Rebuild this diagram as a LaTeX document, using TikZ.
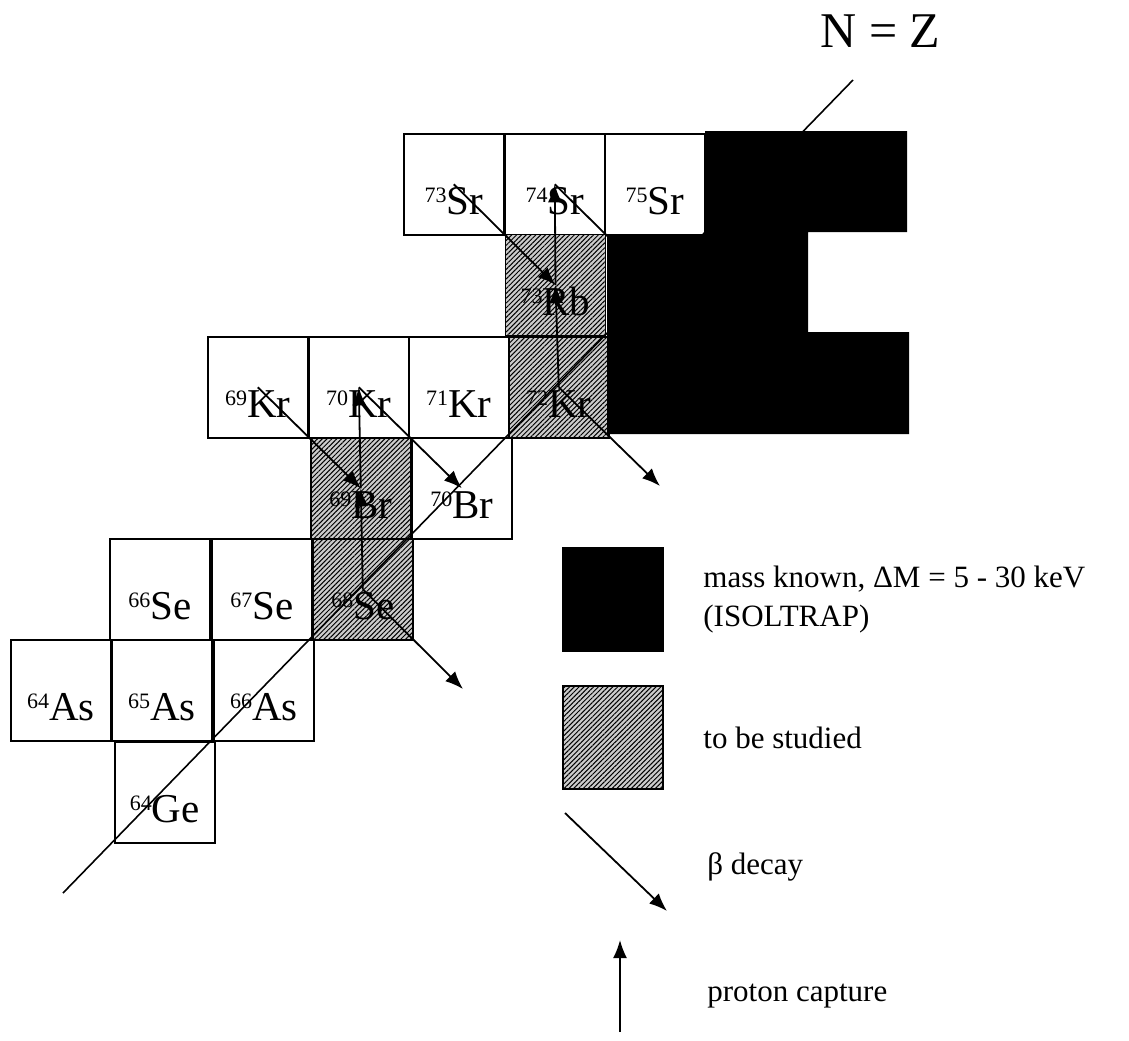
\documentclass[tikz,border=0pt]{standalone}
\usepackage{fontspec}
\setmainfont{Liberation Serif}
\usetikzlibrary{arrows.meta,patterns.meta}
\newcommand{\nuc}[2]{\raisebox{6.2pt}{\fontsize{11}{11}\selectfont #1}#2}

\begin{document}
\begin{tikzpicture}[x=0.5pt,y=-0.5pt,
  cell/.style={draw,line width=0.8pt,anchor=north west,minimum width=50pt,minimum height=50.5pt,
    inner sep=0pt,text height=30.5pt,text depth=0pt,font=\fontsize{20.5}{22}\selectfont},
  studied/.style={preaction={fill=gray!40},pattern={Lines[angle=45,distance=1.7pt,line width=0.5pt]}},
  decay/.style={line width=0.9pt,-{Latex[length=9pt,width=7pt]}},
  legend/.style={anchor=base west,inner sep=0pt,font=\fontsize{15.5}{19}\selectfont}]
  \useasboundingbox (0,0) rectangle (1129,1040);
  % nuclides
  \foreach \x/\y/\m/\el/\nm in {403/133/73/Sr/sr73, 504/133/74/Sr/sr74, 604/133/75/Sr/sr75,
      207/336/69/Kr/kr69, 308/336/70/Kr/kr70, 408/336/71/Kr/kr71, 411/437/70/Br/br70,
      109/538/66/Se/se66, 211/538/67/Se/se67, 10/639/64/As/as64, 111/639/65/As/as65,
      213/639/66/As/as66, 114/741/64/Ge/ge64}
    \node[cell] (\nm) at (\x,\y) {\nuc{\m}{\el}};
  \foreach \x/\y/\m/\el/\nm in {505/234/73/Rb/rb73, 508/336/72/Kr/kr72, 310/437/69/Br/br69, 312/538/68/Se/se68}
    \node[cell,studied] (\nm) at (\x,\y) {\nuc{\m}{\el}};

  % N = Z
  \coordinate (nzlo) at (63,893);
  \coordinate (nzhi) at (853,80);
  \draw[line width=0.8pt] (nzlo) -- (nzhi);
  \node[anchor=base west,inner sep=0pt,font=\fontsize{25}{25}\selectfont] (nzlabel) at (820,47) {N = Z};

  % beta decay and proton capture
  \coordinate (se68out) at (463,689);
  \coordinate (kr72out) at (660,486);
  \coordinate (rb74) at (656,284);
  \foreach \a/\b in {sr73/rb73, kr69/br69, kr70/br70}
    \draw[decay] (\a.center) -- (\b.center);
  \draw[decay] (se68.center) -- (se68out);
  \draw[decay] (kr72.center) -- (kr72out);
  \draw[decay] (sr74.center) -- (rb74);
  \foreach \a/\b in {se68/br69, br69/kr70, kr72/rb73, rb73/sr74}
    \draw[decay] (\a.center) -- (\b.center);

  % known masses
  \fill (705,131) -- (907,131) -- (907,232) -- (808,232) -- (808,332) -- (909,332)
    -- (909,434) -- (607,434) -- (607,234) -- (705,234) -- cycle;

  % legend
  \node[cell,fill=black,minimum height=51.5pt] (keyknown) at (562,547) {};
  \node[cell,studied,minimum height=51.5pt] (keystudy) at (562,685) {};
  \node[legend] (knowntext) at (703,587) {mass known, ΔM = 5 - 30 keV};
  \node[legend] (isoltext) at (703,626) {(ISOLTRAP)};
  \node[legend] (studytext) at (703,748) {to be studied};
  \coordinate (betastart) at (565,813);
  \coordinate (betaend) at (667,911);
  \draw[decay] (betastart) -- (betaend);
  \node[legend] (betatext) at (707,874) {β decay};
  \coordinate (pcapstart) at (620,1032);
  \coordinate (pcapend) at (620,940);
  \draw[decay] (pcapstart) -- (pcapend);
  \node[legend] (pcaptext) at (707,1001) {proton capture};
\end{tikzpicture}
\end{document}
